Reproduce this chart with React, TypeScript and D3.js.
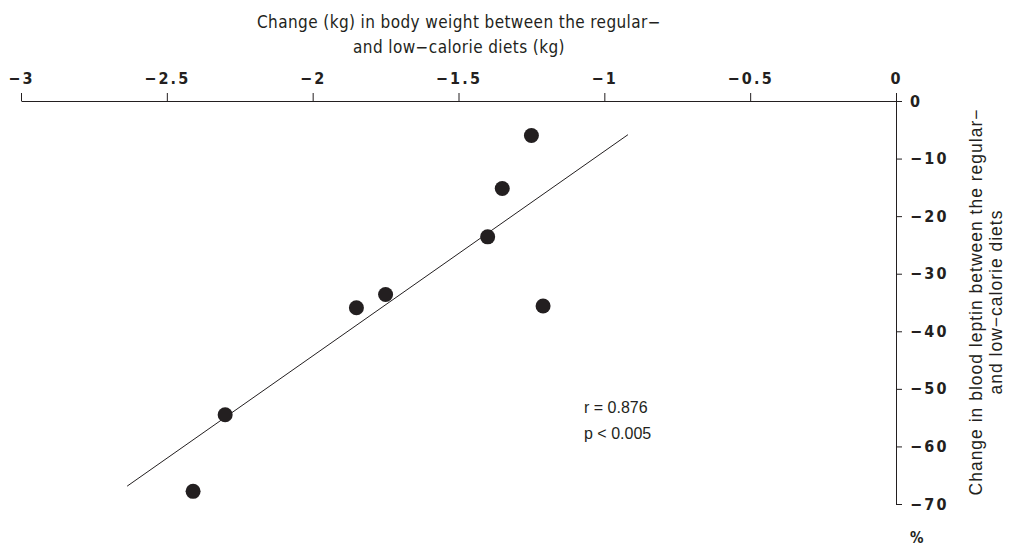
import React, { useEffect, useRef } from 'react';
import * as d3 from 'd3';

// weight change (kg) vs leptin change (%)
const weightChange = [-1.25, -1.35, -1.4, -1.21, -1.75, -1.85, -2.3, -2.41];
const leptinChange = [-6, -15.2, -23.6, -35.6, -33.6, -35.9, -54.5, -67.8];
const fitLineX = [-2.636, -0.919];
const fitLineY = [-66.9, -5.85];
const xTicks = [-3, -2.5, -2, -1.5, -1, -0.5, 0];
const yTicks = [0, -10, -20, -30, -40, -50, -60, -70];
const xTitle = ['Change (kg) in body weight between the regular\u2212', 'and low\u2212calorie diets (kg)'];
const yTitle = ['Change in blood leptin between the regular\u2212', 'and low\u2212calorie diets'];
const stats = ['r = 0.876', 'p < 0.005'];

export default function App() {
  const svgRef = useRef<SVGSVGElement>(null);

  useEffect(() => {
    const width = 1009;
    const height = 551;
    const ink = '#231f20';
    const tickFont = '"Liberation Sans Narrow", "DejaVu Sans Condensed", sans-serif';
    const plainFont = '"Liberation Sans", Arial, sans-serif';

    const svg = d3.select(svgRef.current).attr('width', width).attr('height', height);
    svg.selectAll('*').remove();

    const xScale = d3.scaleLinear().domain([-3, 0]).range([21, 896]);
    const yScale = d3.scaleLinear().domain([0, -70]).range([101, 504]);
    const fmt = (d: d3.NumberValue) => d3.format('')(d as number).replace('-', '\u2212');

    // x axis on top
    const xAxis = svg
      .append('g')
      .attr('transform', `translate(0, ${yScale(0)})`)
      .call(d3.axisTop(xScale).tickValues(xTicks).tickSize(8).tickSizeOuter(0).tickPadding(9).tickFormat(fmt));
    xAxis.select('.domain').attr('stroke', ink);
    xAxis.selectAll('.tick line').attr('stroke', ink);
    xAxis
      .selectAll('.tick text')
      .attr('fill', ink)
      .style('font-family', tickFont)
      .style('font-weight', 'bold')
      .style('font-size', '16px')
      .style('letter-spacing', '2.2px');

    // y axis on the right of the zero line
    const yAxis = svg
      .append('g')
      .attr('transform', `translate(${xScale(0)}, 0)`)
      .call(d3.axisRight(yScale).tickValues(yTicks).tickSize(6).tickSizeOuter(0).tickPadding(8).tickFormat(fmt));
    yAxis.select('.domain').attr('stroke', ink);
    yAxis.selectAll('.tick line').attr('stroke', ink);
    yAxis
      .selectAll('.tick text')
      .attr('fill', ink)
      .style('font-family', tickFont)
      .style('font-weight', 'bold')
      .style('font-size', '16px')
      .style('letter-spacing', '2.2px');

    svg
      .append('text')
      .attr('x', 910)
      .attr('y', 543)
      .attr('fill', ink)
      .style('font-family', tickFont)
      .style('font-weight', 'bold')
      .style('font-size', '15px')
      .text('%');

    // titles
    svg
      .append('g')
      .selectAll('text')
      .data(xTitle)
      .join('text')
      .attr('x', 459)
      .attr('y', (d, i) => 28 + i * 25)
      .attr('text-anchor', 'middle')
      .attr('fill', ink)
      .style('font-family', tickFont)
      .style('font-size', '17px')
      .style('letter-spacing', '0.4px')
      .text((d) => d);

    svg
      .append('g')
      .attr('transform', 'translate(982, 302) rotate(-90)')
      .selectAll('text')
      .data(yTitle)
      .join('text')
      .attr('x', 0)
      .attr('y', (d, i) => i * 20)
      .attr('text-anchor', 'middle')
      .attr('fill', ink)
      .style('font-family', plainFont)
      .style('font-size', '17.5px')
      .style('letter-spacing', '1px')
      .text((d) => d);

    // regression line
    svg
      .append('line')
      .attr('x1', xScale(fitLineX[0]))
      .attr('y1', yScale(fitLineY[0]))
      .attr('x2', xScale(fitLineX[1]))
      .attr('y2', yScale(fitLineY[1]))
      .attr('stroke', ink)
      .attr('stroke-width', 1);

    // points
    svg
      .append('g')
      .selectAll('circle')
      .data(weightChange)
      .join('circle')
      .attr('cx', (d) => xScale(d))
      .attr('cy', (d, i) => yScale(leptinChange[i]))
      .attr('r', 7.5)
      .attr('fill', ink);

    svg
      .append('g')
      .selectAll('text')
      .data(stats)
      .join('text')
      .attr('x', 584)
      .attr('y', (d, i) => 413 + i * 26)
      .attr('fill', ink)
      .style('font-family', plainFont)
      .style('font-size', '16px')
      .text((d) => d);
  }, []);

  return (
    <svg
      ref={svgRef}
      style={{ position: 'absolute', left: 0, top: 0, display: 'block', background: '#fff' }}
    />
  );
}
